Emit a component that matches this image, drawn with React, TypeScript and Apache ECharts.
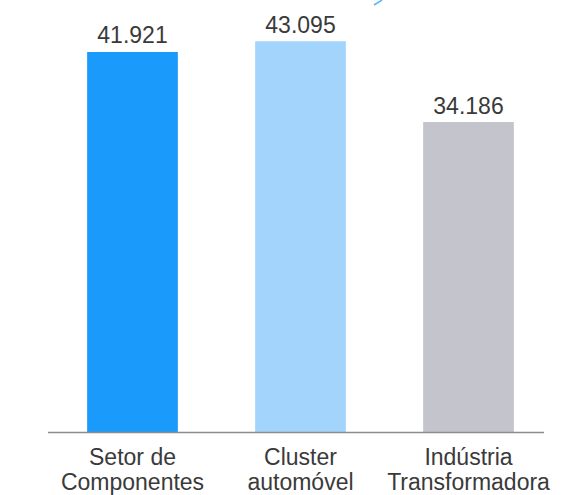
import React, { useEffect, useRef } from "react";
import * as echarts from "echarts";

const categories = ["Setor de\nComponentes", "Cluster\nautomóvel", "Indústria\nTransformadora"];
const values = [41.921, 43.095, 34.186];
const barColors = ["#1a9bfc", "#a3d5fc", "#c4c4cc"];

export default function App() {
  const ref = useRef<HTMLDivElement>(null);
  useEffect(() => {
    if (!ref.current) return;
    const chart = echarts.init(ref.current, undefined, { renderer: "svg" });
    chart.setOption({
      animation: false,
      grid: { left: 48.5, right: 18.5, top: 24, bottom: 63, containLabel: false },
      xAxis: {
        type: "category",
        data: categories,
        axisLine: { show: false },
        axisTick: { show: false },
        axisLabel: {
          color: "#3a3a3a",
          fontFamily: "Liberation Sans, Arial, sans-serif",
          fontSize: 23,
          lineHeight: 25,
          margin: 12,
          interval: 0,
        },
      },
      yAxis: {
        type: "value",
        min: 0,
        max: 45,
        show: false,
        splitLine: { show: false },
      },
      series: [
        {
          type: "bar",
          barWidth: "54%",
          data: values.map((v, i) => ({ value: v, itemStyle: { color: barColors[i] } })),
          label: {
            show: true,
            position: "top",
            distance: 5,
            color: "#3a3a3a",
            fontFamily: "Liberation Sans, Arial, sans-serif",
            fontSize: 23,
            formatter: (p: any) => p.value.toFixed(3),
          },
        },
      ],
      graphic: [
        {
          type: "line",
          shape: { x1: 48, y1: 432.5, x2: 544, y2: 432.5 },
          style: { stroke: "#8c8c8c", lineWidth: 1.5 },
          z: 10,
        },
        {
          type: "line",
          shape: { x1: 374, y1: 5, x2: 382, y2: 0 },
          style: { stroke: "#5ab4fc", lineWidth: 1.5 },
        },
      ],
    });
    return () => chart.dispose();
  }, []);
  return (
    <div
      ref={ref}
      style={{ position: "absolute", left: 0, top: 0, width: 571, height: 495, background: "#fff" }}
    />
  );
}
